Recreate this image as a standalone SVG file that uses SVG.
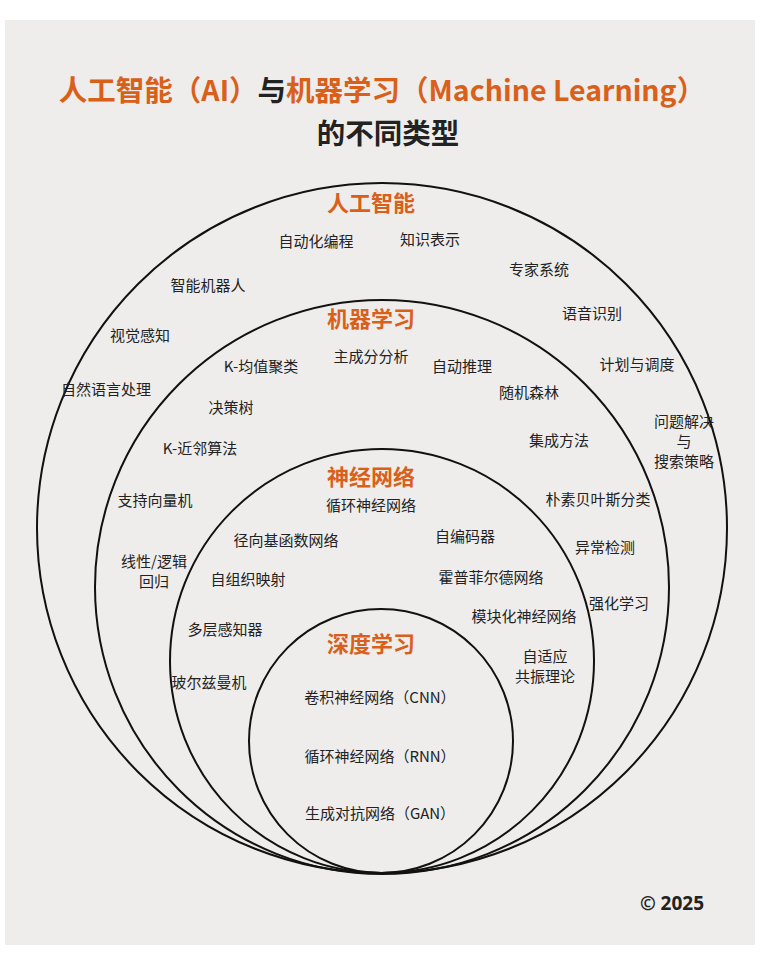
<svg xmlns="http://www.w3.org/2000/svg" width="760" height="980" viewBox="0 0 760 980">
<style>
.c{fill:none;stroke:#111;stroke-width:2}
text{font-family:"Noto Sans CJK SC","Noto Sans",sans-serif;fill:#222;text-anchor:middle}
.t{font-size:15px}
.h{font-size:22px;font-weight:bold;fill:#d9601a}
.ti{font-size:28.5px;font-weight:bold}
.o{fill:#d9601a}
</style>
<rect width="760" height="980" fill="#fff"/>
<rect x="5" y="20" width="750" height="925" fill="#eeedeb"/>
<text x="382" y="101" class="ti"><tspan class="o">人工智能（AI）</tspan>与<tspan class="o">机器学习（Machine Learning）</tspan></text>
<text x="388" y="144" class="ti">的不同类型</text>
<g id="connectors"></g>
<g id="ai"><circle class="c" cx="382" cy="528" r="345"/><text class="h" x="371" y="211">人工智能</text>
<text class="t" x="316" y="247">自动化编程</text><text class="t" x="430" y="245">知识表示</text>
<text class="t" x="539" y="275">专家系统</text><text class="t" x="208" y="291">智能机器人</text>
<text class="t" x="592" y="319">语音识别</text><text class="t" x="140" y="341">视觉感知</text>
<text class="t" x="637" y="370">计划与调度</text><text class="t" x="106" y="395">自然语言处理</text>
<text class="t" x="684" y="427">问题解决</text><text class="t" x="684" y="447">与</text><text class="t" x="684" y="467">搜索策略</text></g>
<g id="ml"><circle class="c" cx="382" cy="587" r="287"/><text class="h" x="371" y="327">机器学习</text>
<text class="t" x="371" y="362">主成分分析</text><text class="t" x="261" y="372">K-均值聚类</text>
<text class="t" x="462" y="372">自动推理</text><text class="t" x="529" y="398">随机森林</text>
<text class="t" x="231" y="413">决策树</text><text class="t" x="559" y="446">集成方法</text>
<text class="t" x="200" y="454">K-近邻算法</text><text class="t" x="155" y="506">支持向量机</text>
<text class="t" x="598" y="505">朴素贝叶斯分类</text><text class="t" x="605" y="553">异常检测</text>
<text class="t" x="154" y="567">线性/逻辑</text><text class="t" x="154" y="587">回归</text>
<text class="t" x="619" y="609">强化学习</text></g>
<g id="nn"><circle class="c" cx="382" cy="661" r="212"/><text class="h" x="371" y="485">神经网络</text>
<text class="t" x="371" y="511">循环神经网络</text><text class="t" x="286" y="546">径向基函数网络</text>
<text class="t" x="465" y="542">自编码器</text><text class="t" x="491" y="583">霍普菲尔德网络</text>
<text class="t" x="248" y="585">自组织映射</text><text class="t" x="524" y="622">模块化神经网络</text>
<text class="t" x="225" y="635">多层感知器</text><text class="t" x="545" y="662">自适应</text>
<text class="t" x="545" y="682">共振理论</text><text class="t" x="209" y="688">玻尔兹曼机</text></g>
<g id="dl"><circle class="c" cx="381" cy="741" r="132"/><text class="h" x="371" y="652">深度学习</text>
<text class="t" x="380" y="703">卷积神经网络（CNN）</text><text class="t" x="380" y="762">循环神经网络（RNN）</text>
<text class="t" x="380" y="819">生成对抗网络（GAN）</text></g>
<text x="672" y="910" style="font-size:19px;font-weight:bold;font-family:'Noto Sans',sans-serif">© 2025</text>
</svg>
